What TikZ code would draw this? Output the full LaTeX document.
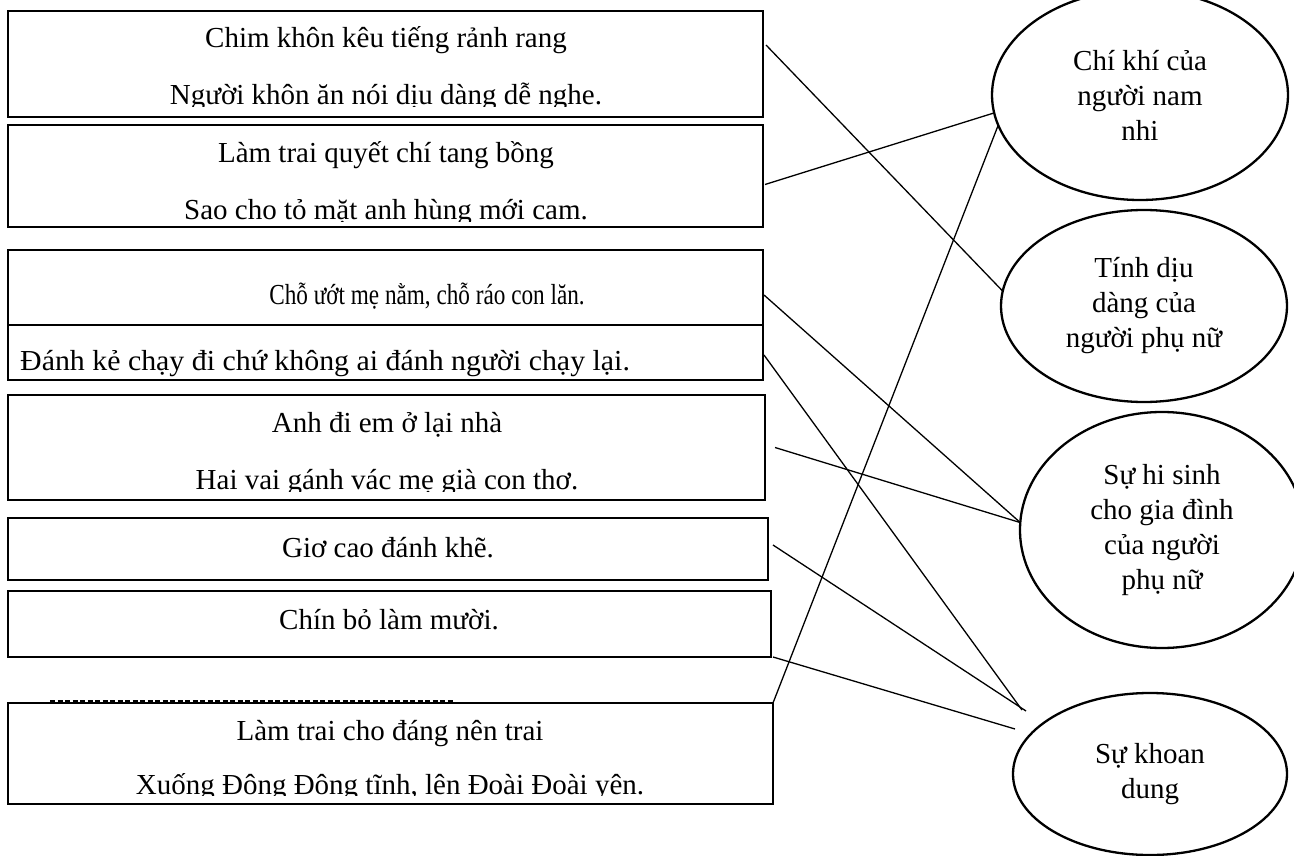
\documentclass[tikz,border=0pt]{standalone}
\usepackage{fontspec}
\setmainfont{Liberation Serif}
\usetikzlibrary{shapes.geometric,calc}
\begin{document}
\begin{tikzpicture}[x=1pt,y=-1pt,
  box/.style={draw, line width=2.8pt, rectangle, anchor=north west, inner sep=0pt, outer sep=0pt},
  ell/.style={draw, line width=2.3pt, ellipse, align=center, inner sep=0pt, outer sep=0pt, font=\fontsize{29}{35}\selectfont},
  txt/.style={inner sep=0pt, anchor=base, font=\fontsize{29}{35}\selectfont},
  link/.style={line width=1.3pt},
  dashline/.style={line width=2pt, dash pattern=on 5pt off 2.5pt}
]
\useasboundingbox (0,0) rectangle (1294,856);
% boxes
\node[box, minimum width=755pt, minimum height=106pt] (b1) at (8,11) {};
\node[box, minimum width=755pt, minimum height=102pt] (b2) at (8,125) {};
\node[box, minimum width=755pt, minimum height=75pt] (b3) at (8,250) {};
\node[box, minimum width=755pt, minimum height=55pt] (b4) at (8,325) {};
\node[box, minimum width=757pt, minimum height=105pt] (b5) at (8,395) {};
\node[box, minimum width=760pt, minimum height=62pt] (b6) at (8,518) {};
\node[box, minimum width=763pt, minimum height=66pt] (b7) at (8,591) {};
\node[box, minimum width=765pt, minimum height=101pt] (b8) at (8,703) {};
% texts
\begin{scope}
\clip (10,13) rectangle (761,107);
\node[txt] (t1a) at (386,48) {Chim khôn kêu tiếng rảnh rang};
\node[txt] (t1b) at (386,105) {Người khôn ăn nói dịu dàng dễ nghe.};
\end{scope}
\begin{scope}
\clip (10,127) rectangle (761,221);
\node[txt] (t2a) at (386,163) {Làm trai quyết chí tang bồng};
\node[txt] (t2b) at (386,219) {Sao cho tỏ mặt anh hùng mới cam.};
\end{scope}
\node[txt] (t3) at (427,304) {\scalebox{0.8}[1]{Chỗ ướt mẹ nằm, chỗ ráo con lăn.}};
\node[txt, anchor=base west] (t4) at (20,370) {\scalebox{1.03}[1]{Đánh kẻ chạy đi chứ không ai đánh người chạy lại.}};
\begin{scope}
\clip (10,397) rectangle (763,491);
\node[txt] (t5a) at (387,432) {Anh đi em ở lại nhà};
\node[txt] (t5b) at (387,489) {Hai vai gánh vác mẹ già con thơ.};
\end{scope}
\node[txt] (t6) at (388,557) {Giơ cao đánh khẽ.};
\node[txt] (t7) at (389,629) {Chín bỏ làm mười.};
\begin{scope}
\clip (10,705) rectangle (771,795);
\node[txt] (t8a) at (390,740) {Làm trai cho đáng nên trai};
\node[txt] (t8b) at (390,794) {Xuống Đông Đông tĩnh, lên Đoài Đoài yên.};
\end{scope}
\coordinate (d1) at (50,700.5);
\coordinate (d2) at (453,700.5);
\draw[dashline] (d1) -- (d2);
% ellipses
\node[ell, minimum width=296pt, minimum height=210pt] (e1) at (1140,95) {Chí khí của\\người nam\\nhi};
\node[ell, minimum width=286pt, minimum height=192pt] (e2) at (1144,306) {Tính dịu\\dàng của\\người phụ nữ};
\node[ell, minimum width=284pt, minimum height=236pt] (e3) at (1162,530) {Sự hi sinh\\cho gia đình\\của người\\phụ nữ};
\node[ell, minimum width=274pt, minimum height=162pt] (e4) at (1150,774) {Sự khoan\\dung};
% free ends
\coordinate (k4) at (1022,710);
\coordinate (k6) at (1026,711);
\coordinate (k7) at (1015,729);
% connectors
\draw[link] ([xshift=3pt,yshift=19pt]b1.east) -- (e2.174);
\draw[link] ([xshift=2pt,yshift=-8.5pt]b2.east) -- (e1.187);
\draw[link] ([xshift=1pt,yshift=-7.5pt]b3.east) -- (e3.177);
\draw[link] ([xshift=1pt,yshift=-2.5pt]b4.east) -- (k4);
\draw[link] ([xshift=10pt]b5.east) -- (e3.177);
\draw[link] ([xshift=5pt,yshift=4pt]b6.east) -- (k6);
\draw[link] ([xshift=2pt]b7.south east) -- (k7);
\draw[link] (b8.north east) -- (e1.192);
\end{tikzpicture}
\end{document}
